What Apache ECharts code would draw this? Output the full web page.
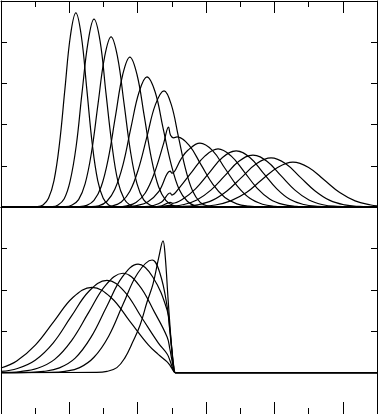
<!DOCTYPE html>
<html>
<head>
	<meta charset="utf-8">
	<title>pulses</title>
	<script src="https://cdn.jsdelivr.net/npm/echarts@6.0.0/dist/echarts.min.js"></script>
	<style>
		html,body{margin:0;padding:0;background:#fff;}
		#chart{width:378px;height:414px;}
	</style>
</head>
<body>
<div id="chart"></div>
<script type="text/javascript">
	// upper panel curves, [x, y] (x 0..11, y 0..5)
	var top1 = [[0,0],[1.07,0.01],[1.23,0.05],[1.39,0.21],[1.55,0.64],[1.71,1.53],[1.87,2.86],[2.03,4.15],[2.19,4.71],[2.35,4.15],[2.51,2.86],[2.67,1.53],[2.83,0.64],[2.99,0.21],[3.15,0.05],[3.31,0.01],[11,0]];
	var top2 = [[0,0],[1.50,0.01],[1.67,0.05],[1.85,0.20],[2.02,0.62],[2.20,1.48],[2.37,2.77],[2.55,4.02],[2.72,4.56],[2.90,4.02],[3.07,2.77],[3.25,1.48],[3.42,0.62],[3.60,0.20],[3.77,0.05],[3.95,0.01],[11,0]];
	var top3 = [[0,0],[1.89,0.01],[2.08,0.05],[2.27,0.18],[2.46,0.56],[2.65,1.34],[2.84,2.51],[3.03,3.64],[3.22,4.13],[3.41,3.64],[3.60,2.51],[3.79,1.34],[3.98,0.56],[4.17,0.18],[4.36,0.05],[4.55,0.01],[11,0]];
	var top4 = [[0,0],[2.30,0.01],[2.51,0.04],[2.72,0.16],[2.93,0.49],[3.14,1.18],[3.35,2.21],[3.56,3.21],[3.77,3.64],[3.98,3.21],[4.19,2.21],[4.40,1.18],[4.61,0.49],[4.82,0.16],[5.03,0.04],[5.24,0.01],[11,0]];
	var top5 = [[0,0],[2.63,0.01],[2.86,0.03],[3.10,0.14],[3.33,0.43],[3.57,1.03],[3.80,1.92],[4.04,2.79],[4.27,3.16],[4.51,2.79],[4.74,1.92],[4.98,1.03],[5.21,0.43],[5.45,0.14],[5.68,0.03],[5.92,0.01],[11,0]];
	var top6 = [[0,0],[3.02,0.01],[3.27,0.03],[3.52,0.12],[3.77,0.38],[4.02,0.92],[4.27,1.71],[4.52,2.49],[4.77,2.82],[4.98,2.49],[5.19,1.71],[5.40,0.92],[5.61,0.38],[5.82,0.12],[6.03,0.03],[6.24,0.01],[11,0]];
	var top7 = [[0,0],[3.41,0.005],[3.68,0.03],[3.95,0.11],[4.22,0.34],[4.49,0.83],[4.76,1.55],[4.90,1.94],[4.96,1.74],[5.05,1.68],[5.15,1.70],[5.50,1.50],[5.85,1.03],[6.20,0.55],[6.55,0.23],[6.90,0.075],[7.25,0.02],[7.60,0.003],[11,0]];
	var top8 = [[0,0],[3.65,0.005],[3.97,0.035],[4.30,0.13],[4.62,0.38],[4.95,0.87],[5.00,0.82],[5.27,1.17],[5.46,1.37],[5.82,1.55],[6.19,1.37],[6.55,0.94],[6.92,0.50],[7.28,0.21],[7.65,0.068],[8.01,0.017],[8.38,0.003],[11,0]];
	var top9 = [[0,0],[4.20,0.008],[4.45,0.035],[4.70,0.12],[4.95,0.34],[5.00,0.29],[5.21,0.46],[5.59,0.86],[5.97,1.24],[6.35,1.41],[6.73,1.24],[7.11,0.86],[7.49,0.46],[7.87,0.19],[8.25,0.062],[8.63,0.016],[9.01,0.003],[11,0]];
	var top10 = [[0,0],[4.40,0.005],[4.70,0.03],[4.95,0.11],[5.02,0.09],[5.30,0.18],[5.69,0.44],[6.09,0.83],[6.48,1.20],[6.88,1.36],[7.28,1.20],[7.67,0.83],[8.07,0.44],[8.46,0.18],[8.86,0.06],[9.25,0.015],[9.65,0.003],[11,0]];
	var top11 = [[0,0],[4.60,0.005],[4.95,0.04],[5.10,0.03],[5.32,0.055],[5.73,0.17],[6.14,0.41],[6.55,0.76],[6.96,1.11],[7.37,1.26],[7.78,1.11],[8.19,0.76],[8.60,0.41],[9.01,0.17],[9.42,0.055],[9.83,0.014],[10.24,0.003],[11,0]];
	var top12 = [[0,0],[5.32,0.013],[5.75,0.052],[6.18,0.16],[6.61,0.39],[7.04,0.72],[7.47,1.05],[7.90,1.19],[8.33,1.05],[8.76,0.72],[9.19,0.39],[9.62,0.16],[10.05,0.052],[10.48,0.013],[10.91,0.002],[11,0]];
	var top13 = [[0,0],[5.36,0.003],[5.81,0.012],[6.27,0.048],[6.72,0.15],[7.18,0.35],[7.63,0.66],[8.09,0.96],[8.54,1.09],[9.00,0.96],[9.45,0.66],[9.91,0.35],[10.36,0.15],[10.82,0.048],[11,0.03]];

	// lower panel curves (x 0..11, y -1..4), all cut off at the wall near x = 5.1
	var bot1 = [[0,0.11],[0.46,0.28],[1.01,0.67],[1.56,1.25],[2.11,1.82],[2.66,2.06],[3.21,1.82],[3.76,1.25],[4.31,0.67],[4.60,0.44],[4.86,0.26],[4.94,0.18],[5.00,0.10],[5.05,0.035],[5.10,0],[11,0]];
	var bot2 = [[0,0.03],[0.48,0.10],[1.00,0.30],[1.53,0.72],[2.05,1.35],[2.58,1.97],[3.10,2.23],[3.60,1.97],[4.10,1.35],[4.60,0.72],[4.86,0.45],[4.94,0.30],[5.00,0.155],[5.05,0.05],[5.10,0],[11,0]];
	var bot3 = [[0,0.005],[0.57,0.027],[1.07,0.105],[1.57,0.32],[2.07,0.78],[2.57,1.46],[3.07,2.12],[3.57,2.40],[4.03,2.12],[4.49,1.46],[4.86,0.86],[4.94,0.57],[5.00,0.30],[5.05,0.095],[5.10,0],[11,0]];
	var bot4 = [[0,0],[0.79,0.006],[1.25,0.029],[1.71,0.115],[2.17,0.35],[2.63,0.85],[3.09,1.59],[3.55,2.31],[4.01,2.62],[4.44,2.31],[4.86,1.51],[4.94,1.04],[5.00,0.56],[5.05,0.175],[5.10,0],[11,0]];
	var bot5 = [[0,0],[1.45,0.006],[1.87,0.03],[2.30,0.12],[2.72,0.37],[3.15,0.88],[3.57,1.65],[4.00,2.40],[4.42,2.72],[4.65,2.40],[4.86,1.60],[4.94,1.00],[5.00,0.50],[5.05,0.14],[5.10,0],[11,0]];
	var bot6 = [[0,0],[2.80,0.005],[3.10,0.03],[3.39,0.12],[3.62,0.35],[3.86,0.75],[4.07,1.15],[4.27,1.70],[4.45,2.15],[4.62,2.80],[4.74,3.18],[4.80,2.85],[4.89,1.75],[4.95,1.05],[5.00,0.53],[5.05,0.15],[5.10,0],[11,0]];

	var topCurves = [top1,top2,top3,top4,top5,top6,top7,top8,top9,top10,top11,top12,top13];
	var botCurves = [bot1,bot2,bot3,bot4,bot5,bot6];

	var ink = '#000';

	// one axis; tickLen 0 = no ticks, showLine draws the frame edge
	function mkAxis(grid, pos, min, max, interval, tickLen, showLine){
		return {
			type:'value',
			gridIndex:grid,
			position:pos,
			min:min,
			max:max,
			interval:interval,
			axisLine:{show:showLine,onZero:false,lineStyle:{color:ink,width:1}},
			axisTick:{show:tickLen>0,inside:true,length:tickLen,lineStyle:{color:ink,width:1}},
			axisLabel:{show:false},
			splitLine:{show:false}
		};
	}

	var xAxes = [
		mkAxis(0,'top',0,11,1,6,true),
		mkAxis(0,'top',-1,10,2,12,false),
		mkAxis(0,'bottom',0,11,1,0,true),
		mkAxis(1,'bottom',0,11,1,6,true),
		mkAxis(1,'bottom',-1,10,2,12,false),
		mkAxis(1,'top',0,11,1,0,true)
	];
	var yAxes = [
		mkAxis(0,'left',0,5,1,6,true),
		mkAxis(0,'left',-2,3,5,12,false),
		mkAxis(0,'right',0,5,1,6,true),
		mkAxis(0,'right',-2,3,5,12,false),
		mkAxis(1,'left',-1,4,1,6,true),
		mkAxis(1,'left',-4,1,5,12,false),
		mkAxis(1,'right',-1,4,1,6,true),
		mkAxis(1,'right',-4,1,5,12,false)
	];

	var series = [];
	topCurves.forEach(function(d){
		series.push({type:'line',xAxisIndex:0,yAxisIndex:0,data:d,smooth:0.4,showSymbol:false,
			lineStyle:{color:ink,width:1.2},silent:true});
	});
	botCurves.forEach(function(d){
		series.push({type:'line',xAxisIndex:3,yAxisIndex:4,data:d,smooth:0.4,showSymbol:false,
			lineStyle:{color:ink,width:1.2},silent:true});
	});

	var chart = echarts.init(document.getElementById('chart'),null,{renderer:'canvas'});
	chart.setOption({
		animation:false,
		backgroundColor:'#fff',
		grid:[
			{left:1,right:1,top:1,height:206,containLabel:false,outerBoundsMode:'none'},
			{left:1,right:1,top:207,height:207,containLabel:false,outerBoundsMode:'none'}
		],
		xAxis:xAxes,
		yAxis:yAxes,
		series:series
	});
</script>
</body>
</html>
